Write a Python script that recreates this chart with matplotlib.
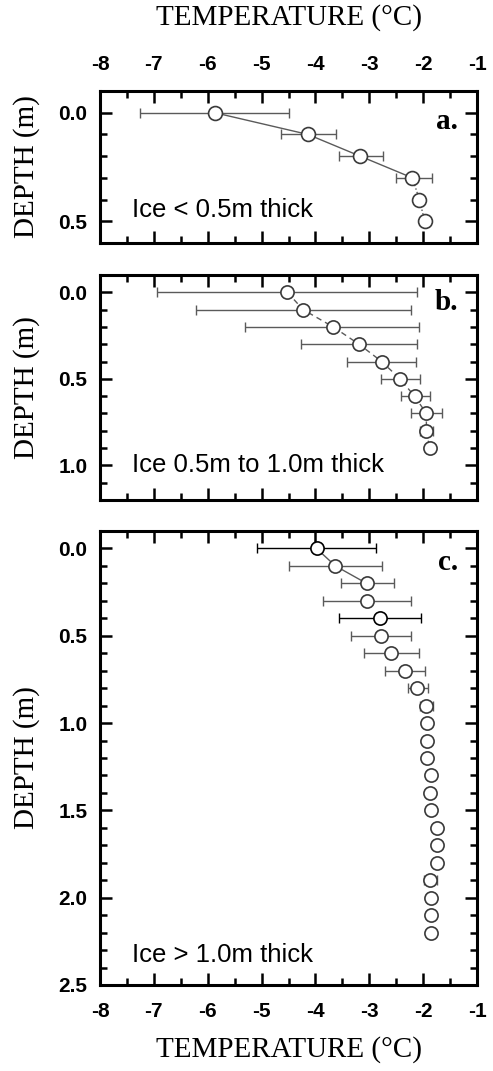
import matplotlib
matplotlib.use("Agg")
import matplotlib.pyplot as plt
from matplotlib.ticker import MultipleLocator

# panel a: ice < 0.5 m
depth_a = [0.0, 0.1, 0.2, 0.3, 0.4, 0.5]
temp_a = [-5.87, -4.14, -3.17, -2.20, -2.07, -1.97]
lo_a = [-7.25, -4.64, -3.56, -2.50, None, None]
hi_a = [-4.50, -3.61, -2.74, -1.84, None, None]

# panel b: ice 0.5 m to 1.0 m
depth_b = [0.0, 0.1, 0.2, 0.3, 0.4, 0.5, 0.6, 0.7, 0.8, 0.9]
temp_b = [-4.52, -4.23, -3.67, -3.19, -2.77, -2.43, -2.16, -1.94, -1.94, -1.88]
lo_b = [-6.95, -6.21, -5.30, -4.27, -3.41, -2.79, -2.42, -2.23, -2.05, None]
hi_b = [-2.12, -2.23, -2.08, -2.12, -2.14, -2.06, -1.88, -1.65, -1.82, None]

# panel c: ice > 1.0 m
depth_c = [0.0, 0.1, 0.2, 0.3, 0.4, 0.5, 0.6, 0.7, 0.8, 0.9, 1.0, 1.1, 1.2,
           1.3, 1.4, 1.5, 1.6, 1.7, 1.8, 1.9, 2.0, 2.1, 2.2]
temp_c = [-3.98, -3.63, -3.05, -3.04, -2.81, -2.79, -2.60, -2.34, -2.12, -1.95,
          -1.92, -1.92, -1.92, -1.86, -1.88, -1.86, -1.74, -1.74, -1.74, -1.88,
          -1.86, -1.86, -1.86]
lo_c = [-5.09, -4.49, -3.53, -3.86, -3.57, -3.34, -3.10, -2.70, -2.28, -2.05,
        None, None, None, None, None, None, None, None, None, -1.99,
        None, None, None]
hi_c = [-2.88, -2.76, -2.55, -2.23, -2.04, -2.22, -2.08, -1.97, -1.91, -1.82,
        None, None, None, None, None, None, None, None, None, -1.75,
        None, None, None]
dark_c = [0, 4]  # rows printed darker in the original

labels = ["Ice < 0.5m thick", "Ice 0.5m to 1.0m thick", "Ice > 1.0m thick"]
letters = ["a.", "b.", "c."]

SERIF = "Liberation Serif"
SANS = "Liberation Sans"
GREY = "#5a5a5a"

fig = plt.figure(figsize=(4.93, 10.71), dpi=100)

# axes placed in figure fractions (pixels / figure size)
W, H = 493.0, 1071.0
left, right = 100 / W, 477 / W
boxes = [(91, 243), (275, 500), (531, 985)]
ylims = [(0.6, -0.1), (1.2, -0.1), (2.5, -0.1)]
text_y = [0.22, 0.155, 0.066]
letter_y = [0.80, 0.88, 0.93]

axes = []
for (top, bot) in boxes:
    ax = fig.add_axes([left, 1 - bot / H, right - left, (bot - top) / H])
    axes.append(ax)


def draw_panel(ax, depth, temp, lo, hi, dark=(), line_style="-", line_upto=None, ms=10):
    n = len(depth) if line_upto is None else line_upto
    ax.plot(temp[:n], depth[:n], linestyle=line_style, color=GREY, lw=1.0, zorder=1)
    for i in range(len(depth)):
        col = "black" if i in dark else GREY
        if lo[i] is not None:
            ax.errorbar(temp[i], depth[i],
                        xerr=[[temp[i] - lo[i]], [hi[i] - temp[i]]],
                        fmt="none", ecolor=col, elinewidth=1.0,
                        capsize=3.5, capthick=1.0, zorder=2)
        ax.plot(temp[i], depth[i], "o", mfc="white",
                mec="black" if i in dark else "#3a3a3a",
                mew=1.2, ms=ms, zorder=3)


draw_panel(axes[0], depth_a, temp_a, lo_a, hi_a, line_upto=4, ms=10)
# dotted continuation below the last error bar in panel a
axes[0].plot(temp_a[3:], depth_a[3:], linestyle=":", color=GREY, lw=1.0, zorder=1)
draw_panel(axes[1], depth_b, temp_b, lo_b, hi_b, line_style=(0, (4, 3)), ms=9.5)
draw_panel(axes[2], depth_c, temp_c, lo_c, hi_c, dark=dark_c, line_upto=3, ms=9.5)

for k, ax in enumerate(axes):
    ax.set_xlim(-8, -1)
    ax.set_ylim(*ylims[k])
    ax.xaxis.set_major_locator(MultipleLocator(1))
    ax.xaxis.set_minor_locator(MultipleLocator(0.5))
    ax.yaxis.set_major_locator(MultipleLocator(0.5))
    ax.yaxis.set_minor_locator(MultipleLocator(0.1))
    ax.tick_params(which="both", direction="in", top=True, bottom=True,
                   left=True, right=True, width=1.8, color="black")
    ax.tick_params(which="major", length=8.5)
    ax.tick_params(which="minor", length=5)
    ax.tick_params(axis="y", pad=9)
    ax.tick_params(axis="x", pad=12)
    # x tick labels only on top of panel a and bottom of panel c
    ax.tick_params(axis="x", labeltop=(k == 0), labelbottom=(k == 2))
    for sp in ax.spines.values():
        sp.set_linewidth(2.2)
    ax.yaxis.set_major_formatter(plt.FuncFormatter(lambda v, p: f"{v:.1f}"))
    ax.xaxis.set_major_formatter(plt.FuncFormatter(lambda v, p: f"{v:.0f}"))
    for tick in ax.xaxis.get_major_ticks() + ax.yaxis.get_major_ticks():
        for t in (tick.label1, tick.label2):
            t.set_fontfamily(SANS)
            t.set_fontsize(15)
            t.set_fontweight("bold")

    ax.text(0.085, text_y[k], labels[k], transform=ax.transAxes,
            fontfamily=SANS, fontsize=18.5, ha="left", va="center")
    ax.text(0.95, letter_y[k], letters[k], transform=ax.transAxes,
            fontfamily=SERIF, fontsize=21, fontweight="bold",
            ha="right", va="center")

    # depth label, centred on each panel
    top, bot = boxes[k]
    fig.text(27 / W, 1 - (top + bot) / 2 / H, "DEPTH (m)", rotation=90,
             fontfamily=SERIF, fontsize=21, ha="center", va="center")

fig.text((left + right) / 2, 1 - 18 / H, "TEMPERATURE (°C)", fontfamily=SERIF,
         fontsize=21, ha="center", va="center")
fig.text((left + right) / 2, 1 - 1050 / H, "TEMPERATURE (°C)", fontfamily=SERIF,
         fontsize=21, ha="center", va="center")

plt.savefig("out.png", dpi=100)
plt.close()
